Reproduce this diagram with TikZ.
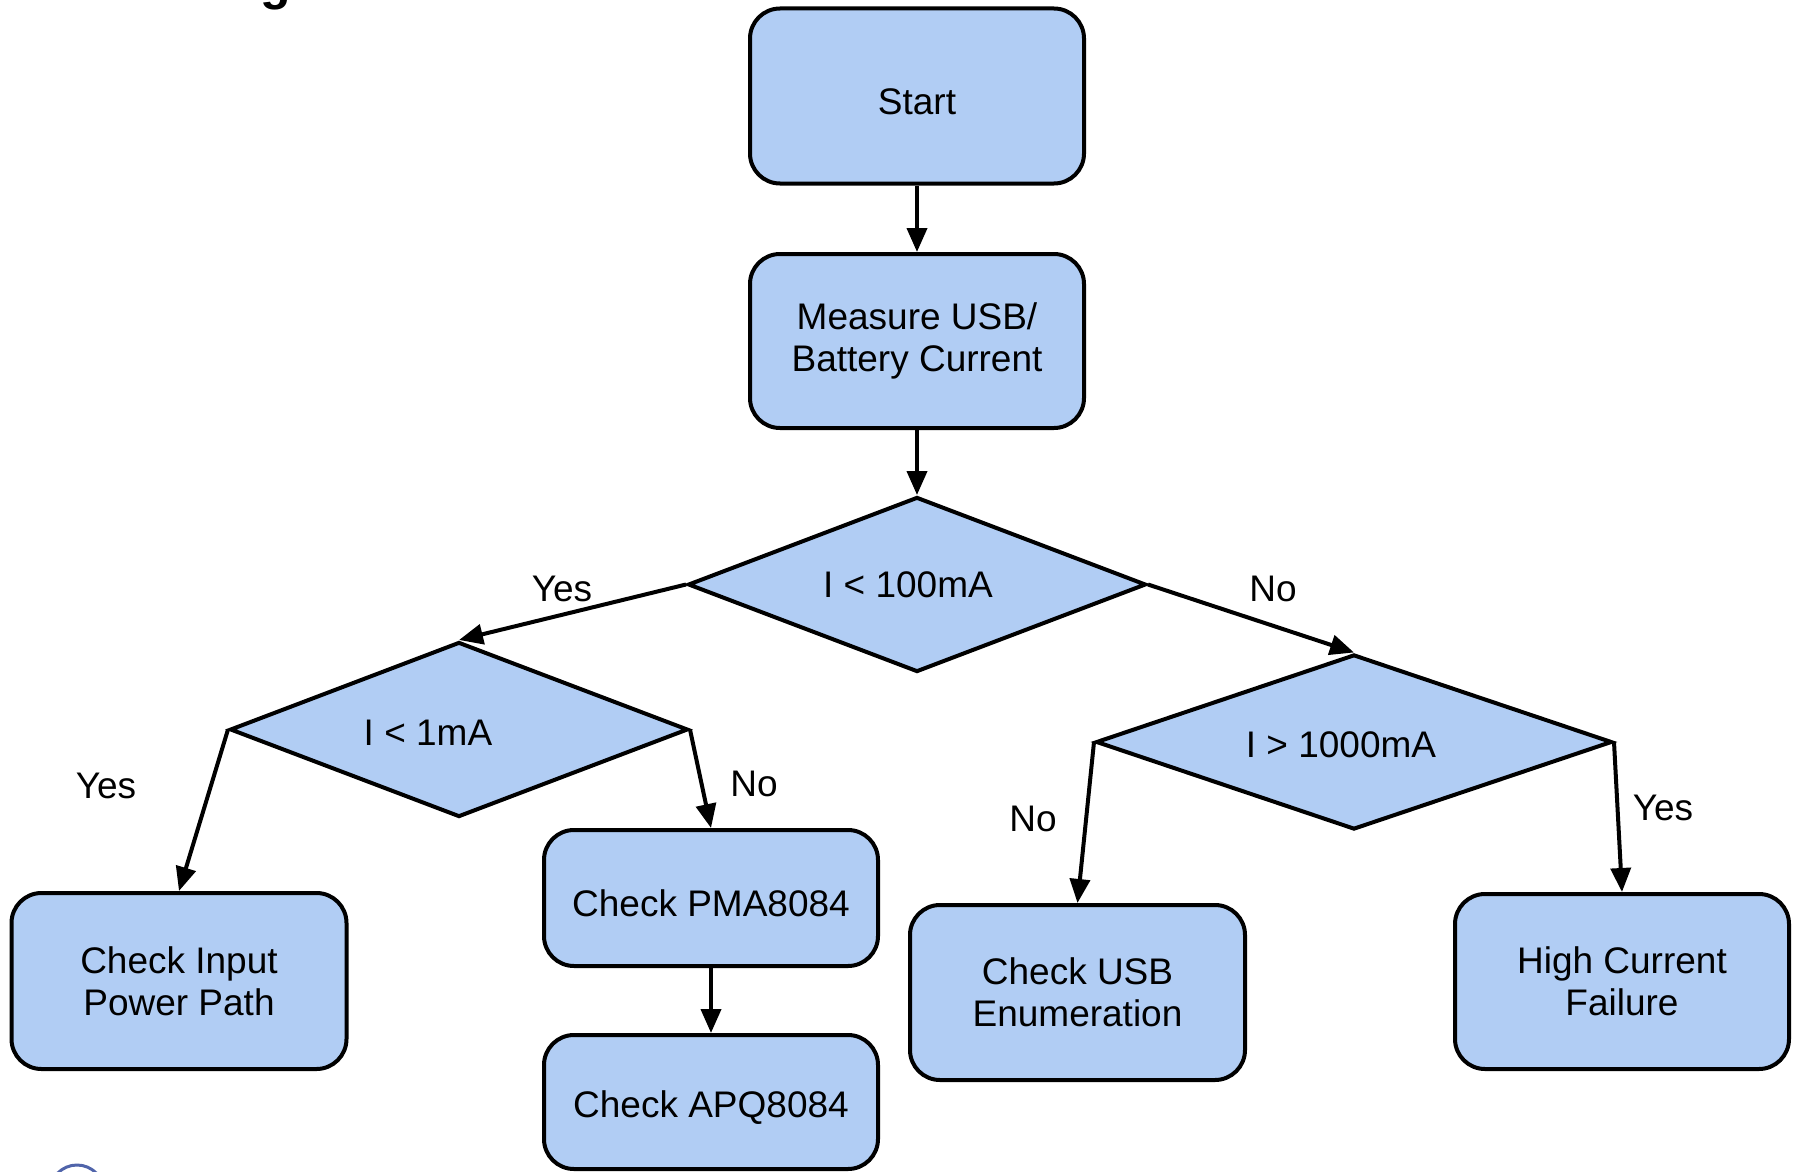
\documentclass[tikz,border=0pt]{standalone}
\usepackage{fontspec}
\setmainfont{Liberation Sans}
\usetikzlibrary{shapes.geometric,arrows.meta}
\definecolor{boxfill}{RGB}{177,205,244}
\definecolor{logoblue}{RGB}{80,100,170}
\tikzset{
  every node/.style={font=\fontsize{37}{42}\selectfont},
  procbox/.style={draw=black, line width=4pt, fill=boxfill, rounded corners=30pt,
    minimum width=334pt, align=center, inner sep=0pt,
    execute at begin node={\rule{0pt}{37pt}}},
  decision/.style={draw=black, line width=4pt, fill=boxfill, diamond, aspect=2.6,
    minimum width=458pt, minimum height=175pt, inner sep=0pt},
  flow/.style={line width=4pt, -{Triangle[length=24pt,width=20pt]}},
  lbl/.style={inner sep=0pt}
}
\begin{document}
\begin{tikzpicture}[x=1pt,y=-1pt]
\useasboundingbox (0,0) rectangle (1794,1172);
\clip (0,0) rectangle (1794,1172);
% partial title and logo at the edges
\node[font=\fontsize{50}{60}\selectfont\bfseries, anchor=base] (titleg) at (276,0) {g};
\draw[logoblue, line width=3pt] (77,1192) circle (27);
% process boxes
\node[procbox, minimum height=175pt] (start) at (917,96) {Start};
\node[procbox, minimum height=174pt] (measure) at (917,341) {Measure USB/\\Battery Current};
\node[procbox, minimum height=176pt, minimum width=335pt] (cip) at (179,981) {Check Input\\Power Path};
\node[procbox, minimum height=136pt] (pma) at (711,898) {Check PMA8084};
\node[procbox, minimum height=134pt] (apq) at (711,1102) {Check APQ8084};
\node[procbox, minimum height=175pt, minimum width=335pt] (usb) at (1077.5,992.5) {Check USB\\Enumeration};
\node[procbox, minimum height=175pt] (hcf) at (1622,981.5) {High Current\\Failure};
% decisions
\node[decision] (d1) at (917,584.5) {};
\node[decision] (d2) at (459,729.5) {};
\node[decision, minimum width=516pt, minimum height=175pt] (d3) at (1354,742) {};
\node[lbl] (t1) at ([xshift=-9pt]d1.center) {I < 100mA};
\node[lbl] (t2) at ([xshift=-31pt,yshift=-3pt]d2.center) {I < 1mA};
\node[lbl] (t3) at ([xshift=-13pt,yshift=-3pt]d3.center) {I > 1000mA};
% connectors
\draw[flow] (start.south) -- (measure.north);
\draw[flow] (measure.south) -- (d1.north);
\draw[flow] (d1.west) -- (d2.north);
\draw[flow] (d1.east) -- (d3.north);
\draw[flow] (d2.west) -- (cip.north);
\draw[flow] (d2.east) -- (pma.north);
\draw[flow] (pma.south) -- (apq.north);
\draw[flow] (d3.west) -- (usb.north);
\draw[flow] (d3.east) -- (hcf.north);
% edge labels
\node[lbl] (y1) at (562,589) {Yes};
\node[lbl] (n1) at (1273,589) {No};
\node[lbl] (y2) at (106,786) {Yes};
\node[lbl] (n2) at (754,784) {No};
\node[lbl] (n3) at (1033,819) {No};
\node[lbl] (y3) at (1663,808) {Yes};
\end{tikzpicture}
\end{document}
